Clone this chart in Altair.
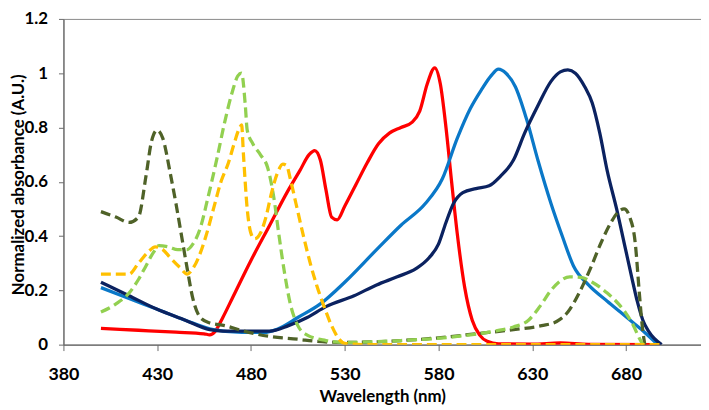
import altair as alt
import pandas as pd

# ---- data ----
red_x = [400, 420, 440, 455, 458, 461, 465, 470, 480, 490, 500, 506, 511, 514, 517, 520, 523, 526, 530, 536, 542, 548, 554, 560, 566, 570, 574, 578, 581, 584, 587, 590, 594, 598, 602, 606, 612, 630, 645, 660, 698]
red_y = [0.06, 0.053, 0.046, 0.040, 0.036, 0.05, 0.10, 0.17, 0.31, 0.44, 0.57, 0.64, 0.70, 0.715, 0.68, 0.57, 0.47, 0.46, 0.51, 0.59, 0.67, 0.74, 0.78, 0.80, 0.82, 0.86, 0.96, 1.02, 0.96, 0.80, 0.60, 0.41, 0.21, 0.09, 0.035, 0.012, 0.003, 0.002, 0.006, 0.001, 0.0]

blue_x = [400, 415, 430, 445, 460, 475, 487, 494, 505, 517, 530, 547, 560, 573, 582, 590, 597, 603, 608, 612, 616, 621, 627, 633, 640, 646, 652, 660, 670, 677, 684, 690, 697]
blue_y = [0.21, 0.17, 0.13, 0.09, 0.055, 0.045, 0.045, 0.057, 0.10, 0.15, 0.23, 0.35, 0.44, 0.52, 0.61, 0.76, 0.87, 0.94, 0.99, 1.015, 1.0, 0.95, 0.83, 0.68, 0.52, 0.40, 0.29, 0.22, 0.16, 0.12, 0.08, 0.045, 0.0]

navy_x = [400, 415, 430, 445, 458, 465, 480, 490, 500, 510, 520, 535, 547, 558, 568, 575, 580, 584, 588, 593, 600, 607, 613, 620, 626, 633, 640, 645, 649, 653, 658, 662, 666, 670, 675, 679, 683, 686, 689, 692, 699]
navy_y = [0.23, 0.18, 0.13, 0.09, 0.055, 0.05, 0.05, 0.05, 0.07, 0.10, 0.14, 0.18, 0.22, 0.25, 0.28, 0.32, 0.37, 0.45, 0.52, 0.56, 0.575, 0.585, 0.62, 0.68, 0.78, 0.88, 0.97, 1.005, 1.012, 1.0, 0.95, 0.89, 0.78, 0.64, 0.50, 0.375, 0.25, 0.16, 0.09, 0.05, 0.0]

olive_x = [400, 408, 415, 420, 424, 427, 430, 433, 437, 440, 443, 446, 449, 453, 458, 466, 476, 490, 505, 515, 530, 560, 580, 600, 620, 635, 643, 649, 655, 661, 667, 672, 676, 679, 682, 685, 687, 688.5, 690]
olive_y = [0.49, 0.47, 0.45, 0.47, 0.62, 0.75, 0.79, 0.76, 0.63, 0.52, 0.40, 0.28, 0.17, 0.10, 0.08, 0.07, 0.05, 0.03, 0.02, 0.012, 0.008, 0.015, 0.025, 0.04, 0.055, 0.07, 0.085, 0.12, 0.19, 0.28, 0.38, 0.45, 0.49, 0.50, 0.47, 0.37, 0.20, 0.08, 0.0]

lgreen_x = [400, 408, 415, 420, 424, 428, 431, 436, 441, 446, 449, 453, 457, 462, 466, 470, 473, 475, 477, 478, 481, 485, 489, 492, 495, 498, 501, 505, 510, 520, 530, 560, 590, 610, 620, 628, 634, 640, 645, 650, 656, 662, 670, 676, 680, 684, 687, 689]
lgreen_y = [0.12, 0.15, 0.19, 0.24, 0.29, 0.34, 0.365, 0.36, 0.35, 0.35, 0.37, 0.43, 0.54, 0.69, 0.82, 0.93, 0.99, 1.0, 0.88, 0.79, 0.74, 0.70, 0.65, 0.55, 0.40, 0.26, 0.15, 0.07, 0.035, 0.015, 0.008, 0.015, 0.03, 0.05, 0.065, 0.09, 0.14, 0.20, 0.235, 0.25, 0.248, 0.23, 0.19, 0.15, 0.115, 0.07, 0.025, 0.0]

orange_x = [400, 408, 415, 420, 425, 429, 433, 437, 442, 446, 449, 452, 456, 460, 464, 468, 471, 474, 475, 476, 478, 480, 482, 485, 488, 491, 494, 497, 499, 501, 504, 508, 512, 515, 519, 523, 527, 530, 540, 700]
orange_y = [0.26, 0.26, 0.26, 0.30, 0.34, 0.36, 0.35, 0.32, 0.285, 0.26, 0.28, 0.32, 0.40, 0.50, 0.60, 0.67, 0.74, 0.80, 0.81, 0.70, 0.50, 0.41, 0.39, 0.41, 0.47, 0.56, 0.63, 0.665, 0.66, 0.61, 0.52, 0.40, 0.29, 0.22, 0.14, 0.07, 0.02, 0.005, 0.0, 0.0]

x_ticks = [380, 430, 480, 530, 580, 630, 680]
y_ticks = [0, 0.2, 0.4, 0.6, 0.8, 1.0, 1.2]

series = [
    ("red", red_x, red_y, "#FF0000", False),
    ("blue", blue_x, blue_y, "#0A78C8", False),
    ("navy", navy_x, navy_y, "#0B2260", False),
    ("olive", olive_x, olive_y, "#4F6228", True),
    ("lgreen", lgreen_x, lgreen_y, "#92D050", True),
    ("orange", orange_x, orange_y, "#FFC000", True),
]

FONT = "Lato"
xscale = alt.Scale(domain=[380, 720], nice=False, zero=False)
yscale = alt.Scale(domain=[0, 1.2], nice=False)

layers = []
for i, (name, xs, ys, color, dashed) in enumerate(series):
    df = pd.DataFrame({"x": xs, "y": ys})
    kw = dict(color=color, strokeWidth=3.3, interpolate="monotone", clip=True)
    if dashed:
        kw["strokeDash"] = [10, 5]
    if i == 0:
        xenc = alt.X("x:Q", scale=xscale, title="Wavelength (nm)",
                     axis=alt.Axis(values=x_ticks, grid=False, labelFlush=False,
                                   tickSize=6, labelPadding=15, titlePadding=5))
        yenc = alt.Y("y:Q", scale=yscale, title="Normalized absorbance (A.U.)",
                     axis=alt.Axis(values=y_ticks, grid=False, format="~g",
                                   tickSize=5, labelPadding=11, labelFontSize=17,
                                   titleX=-53, titleY=167, titleBaseline="top"))
    else:
        xenc = alt.X("x:Q", scale=xscale)
        yenc = alt.Y("y:Q", scale=yscale)
    layers.append(alt.Chart(df).mark_line(**kw).encode(x=xenc, y=yenc))

chart = alt.layer(*layers).properties(
    width=644, height=329,
    autosize=alt.AutoSizeParams(type="none"),
    padding={"left": 56, "top": 9, "right": 0, "bottom": 64},
).configure_view(
    stroke="#8A8A8A", strokeWidth=1
).configure_axis(
    labelFont=FONT, titleFont=FONT, labelFontSize=18, titleFontSize=17,
    labelFontWeight="bold", titleFontWeight="bold",
    labelColor="#000000", titleColor="#000000",
    domainColor="#6A6A6A", tickColor="#6A6A6A", domainWidth=1.2, tickWidth=1,
)

chart.save("out.html", embed_options={"renderer": "svg", "actions": False})
